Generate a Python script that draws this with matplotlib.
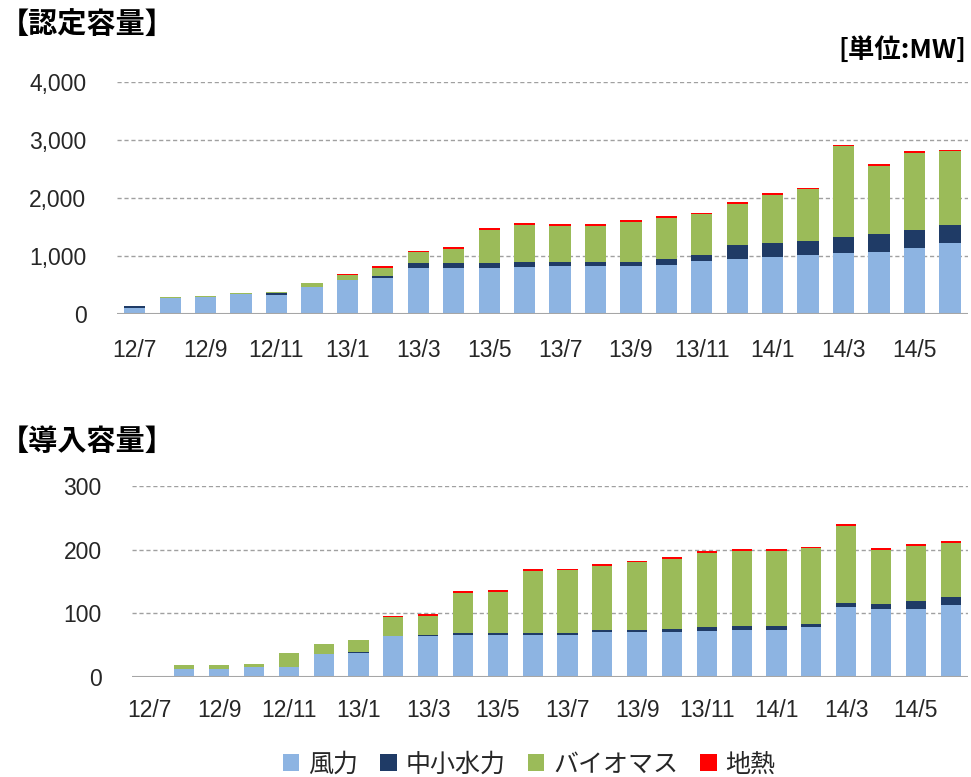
import numpy as np
import matplotlib
matplotlib.use('Agg')
import matplotlib.pyplot as plt
from matplotlib.ticker import FuncFormatter
from matplotlib.patches import Patch

plt.rcParams['font.family'] = ['Liberation Sans', 'Noto Sans CJK JP', 'DejaVu Sans']

# months 2012/7 .. 2014/6
months = ['12/7', '12/8', '12/9', '12/10', '12/11', '12/12',
          '13/1', '13/2', '13/3', '13/4', '13/5', '13/6',
          '13/7', '13/8', '13/9', '13/10', '13/11', '13/12',
          '14/1', '14/2', '14/3', '14/4', '14/5', '14/6']

series = ['風力', '中小水力', 'バイオマス', '地熱']
colors = ['#8DB4E2', '#1F3B66', '#9BBB59', '#FF0000']

# certified capacity [MW]
cert_wind = [110, 270, 300, 350, 330, 467, 583, 617, 800, 800, 800, 802,
             822, 822, 822, 845, 914, 954, 983, 1017, 1046, 1069, 1132, 1224]
cert_hydro = [30, 0, 0, 0, 30, 0, 0, 35, 70, 70, 70, 92,
              69, 69, 69, 109, 103, 241, 241, 241, 287, 310, 310, 310]
cert_bio = [0, 15, 15, 15, 20, 70, 87, 145, 190, 254, 580, 635,
            630, 630, 700, 707, 700, 707, 833, 891, 1557, 1178, 1328, 1270]
cert_geo = [0, 0, 0, 0, 0, 0, 25, 25, 30, 30, 30, 30,
            30, 30, 30, 30, 30, 30, 30, 30, 30, 30, 30, 30]

# installed capacity [MW]
inst_wind = [0, 13, 13, 15, 15, 36, 37, 64, 64, 66, 66, 66,
             66, 70, 70, 70, 72, 74, 74, 78, 110, 107, 107, 113]
inst_hydro = [0, 0, 0, 0, 0, 0, 2.6, 0, 2, 2.6, 2.6, 3.7,
              3.7, 3.7, 4, 6, 6, 6, 6, 6, 6, 7.4, 11.6, 12]
inst_bio = [0, 6, 6, 6, 22.6, 16, 18, 30, 30, 64, 65, 97,
            98, 101, 106, 110, 117, 118, 118, 118, 121, 85, 87, 86]
inst_geo = [0, 0, 0, 0, 0, 0, 0, 2.6, 3, 2.6, 2.6, 2.6,
            2.6, 2.6, 2.6, 2.6, 2.6, 2.6, 2.6, 2.6, 2.6, 2.6, 2.6, 2.6]

fig = plt.figure(figsize=(9.71, 7.77), dpi=100)
ax1 = fig.add_axes([0.1205, 0.596, 0.876, 0.2986])
ax2 = fig.add_axes([0.136, 0.1287, 0.861, 0.2458])

x = np.arange(len(months))


def stacked(ax, data, width, ymax, step, xpad):
    bottom = np.zeros(len(months))
    for vals, c in zip(data, colors):
        vals = np.array(vals, dtype=float)
        ax.bar(x, vals, width, bottom=bottom, color=c, zorder=3)
        bottom += vals
    ax.set_xlim(-0.5, len(months) - 0.5)
    ax.set_ylim(0, ymax)
    ax.set_yticks(np.arange(0, ymax + 1, step))
    ax.yaxis.set_major_formatter(FuncFormatter(lambda v, p: '{:,.0f}'.format(v)))
    ax.set_xticks(x[::2])
    ax.set_xticklabels(months[::2])
    for s in ax.spines.values():
        s.set_visible(False)
    ax.axhline(0, color='#a6a6a6', lw=1.5, zorder=4)
    for v in np.arange(step, ymax + 1, step):
        ax.axhline(v, color='#a0a0a0', lw=1.0, ls=(0, (3, 2)), zorder=1)
    ax.tick_params(length=0, labelsize=16.5, colors='#262626')
    ax.tick_params(axis='x', pad=xpad)
    ax.tick_params(axis='y', pad=22)


stacked(ax1, [cert_wind, cert_hydro, cert_bio, cert_geo], 0.6, 4000, 1000, 18)
stacked(ax2, [inst_wind, inst_hydro, inst_bio, inst_geo], 0.58, 300, 100, 16)

fig.text(0.0, 0.968, '【認定容量】', fontsize=21, fontweight='bold',
         family=['Noto Sans CJK JP'], va='center', ha='left')
fig.text(0.995, 0.935, '[単位:MW]', fontsize=19, fontweight='bold',
         family=['Noto Sans CJK JP'], va='center', ha='right')
fig.text(0.0, 0.433, '【導入容量】', fontsize=21, fontweight='bold',
         family=['Noto Sans CJK JP'], va='center', ha='left')

handles = [Patch(facecolor=c, label=s) for s, c in zip(series, colors)]
fig.legend(handles=handles, loc='center', bbox_to_anchor=(0.545, 0.016), ncol=4,
           frameon=False, handlelength=0.65, handleheight=0.65, handletextpad=0.35,
           columnspacing=0.9, labelcolor='#262626',
           prop={'family': ['Noto Sans CJK JP'], 'size': 18})

plt.savefig('out.png', dpi=100)
